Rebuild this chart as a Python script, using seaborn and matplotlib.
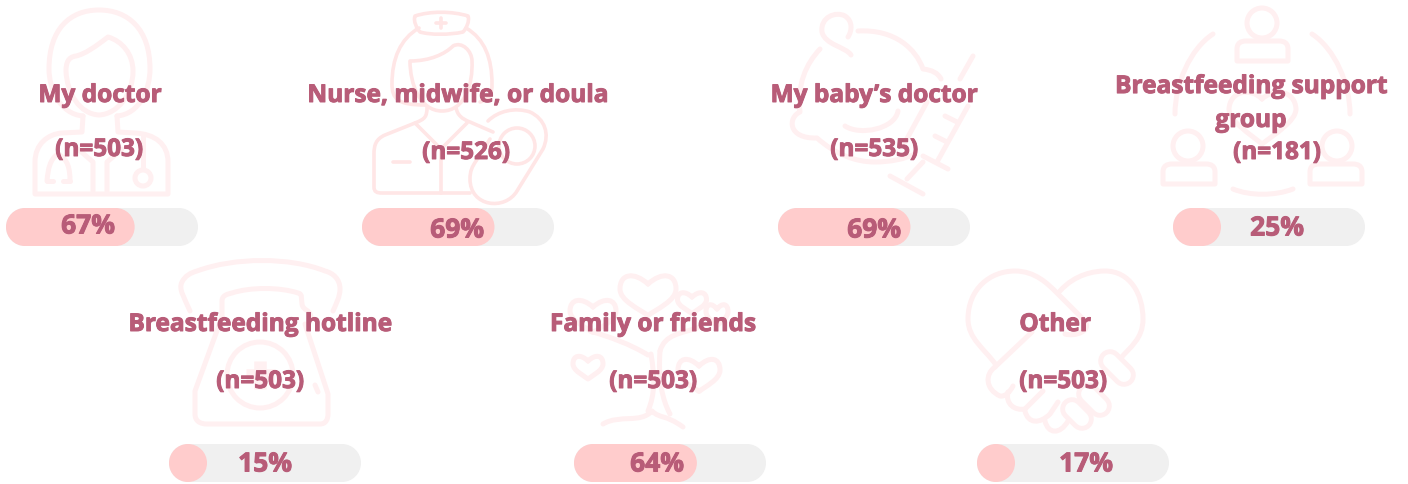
import re
import matplotlib
matplotlib.use("Agg")
import matplotlib.pyplot as plt
import matplotlib.patheffects as pe
import pandas as pd
import seaborn as sns
from matplotlib.patches import Circle, PathPatch
from matplotlib.path import Path

# Data
categories = ["My doctor", "Nurse, midwife, or doula", "My baby\u2019s doctor",
              "Breastfeeding support\ngroup", "Breastfeeding hotline",
              "Family or friends", "Other"]
n_values = [503, 526, 535, 181, 503, 503, 503]
percents = [67, 69, 69, 25, 15, 64, 17]

W, H = 1408, 485
TEXT = "#b85c78"
FILL = "#ffcccc"
TRACK = "#f0f0f0"
ICON = "#fff0f1"
ICON2 = "#ffe6e6"

# layout in pixels: bar left, bar top, title x, title y, n x, n y, pct x, pct y
layout = [
    (6, 209, 100, 94, 99, 148, 88, 224),
    (362, 209, 458, 94, 466, 151, 457, 228),
    (778, 209, 874, 94, 874, 148, 874, 228),
    (1173, 209, 1251, 102, 1277, 151, 1277, 226),
    (169, 445, 260, 323, 260, 380, 265, 462),
    (574, 445, 653, 323, 653, 380, 657, 462),
    (977, 445, 1055, 323, 1063, 380, 1086, 462),
]
BAR_W, BAR_H = 192, 38

sns.set_theme(style="white")
plt.rcParams["font.family"] = ["Open Sans", "DejaVu Sans"]

fig = plt.figure(figsize=(W / 100, H / 100), dpi=100, facecolor="white")

# background icons, drawn in pixel coordinates
bg = fig.add_axes([0, 0, 1, 1], zorder=0)
bg.set_xlim(0, W)
bg.set_ylim(H, 0)
bg.axis("off")


def svg(ax, d, color=ICON, lw=3.6):
    verts, codes = [], []
    for cmd, args in re.findall(r"([MLCZ])([^MLCZ]*)", d):
        nums = [float(v) for v in re.findall(r"-?[\d.]+", args)]
        pts = list(zip(nums[0::2], nums[1::2]))
        if cmd == "M":
            verts += pts
            codes += [Path.MOVETO]
        elif cmd == "L":
            verts += pts
            codes += [Path.LINETO] * len(pts)
        elif cmd == "C":
            verts += pts
            codes += [Path.CURVE4] * len(pts)
        else:
            verts += [verts[-1]]
            codes += [Path.CLOSEPOLY]
    ax.add_patch(PathPatch(Path(verts, codes), fc="none", ec=color, lw=lw,
                           capstyle="round", joinstyle="round"))


def ring(ax, x, y, r, color=ICON, lw=3.6):
    ax.add_patch(Circle((x, y), r, fc="none", ec=color, lw=lw))


def heart(ax, x, y, w, h, lw=3.6):
    # x, y = centre of the notch, w/h = full size
    a, b = w / 2, h
    svg(ax, f"M{x},{y} C{x-a*0.5},{y-b*0.3} {x-a},{y-b*0.25} {x-a},{y+b*0.12} "
            f"C{x-a},{y+b*0.4} {x-a*0.3},{y+b*0.6} {x},{y+b*0.75} "
            f"C{x+a*0.3},{y+b*0.6} {x+a},{y+b*0.4} {x+a},{y+b*0.12} "
            f"C{x+a},{y-b*0.25} {x+a*0.5},{y-b*0.3} {x},{y}", lw=lw)


def capsule(ax, x0, y0, x1, y1):
    for col, width in ((ICON, 17), ("white", 10)):
        ax.plot([x0, x1], [y0, y1], color=col, lw=width, solid_capstyle="round")


def pill_path(x, y, w, h, rx, ry):
    # rounded ends as true quarter circles
    k = 0.5523
    verts = [
        (x + rx, y), (x + w - rx, y),
        (x + w - rx + k * rx, y), (x + w, y + ry - k * ry), (x + w, y + ry),
        (x + w, y + h - ry),
        (x + w, y + h - ry + k * ry), (x + w - rx + k * rx, y + h), (x + w - rx, y + h),
        (x + rx, y + h),
        (x + rx - k * rx, y + h), (x, y + h - ry + k * ry), (x, y + h - ry),
        (x, y + ry),
        (x, y + ry - k * ry), (x + rx - k * rx, y), (x + rx, y),
    ]
    codes = [Path.MOVETO, Path.LINETO] + [Path.CURVE4] * 3 + [Path.LINETO] + [Path.CURVE4] * 3 \
        + [Path.LINETO] + [Path.CURVE4] * 3 + [Path.LINETO] + [Path.CURVE4] * 3
    return Path(verts, codes)


# doctor
for d in [
    "M83,117 C60,115 49,90 49,70 C49,30 70,11 99,11 C128,11 150,30 150,70 C150,90 140,115 117,117",
    "M108,38 C95,48 85,55 76,57 C68,58 66,64 66,72 C67,95 80,115 99,116 C118,115 133,95 133,72 C133,55 122,42 108,38 Z",
    "M83,117 L82,133 L62,134 C48,135 35,145 35,163 L35,195 L168,195 L168,163 C168,145 155,135 135,134 L118,133 L117,117",
    "M93,192 L93,163 L78,150", "M107,192 L107,163 L122,150",
    "M143,135 L143,170", "M70,182 C70,170 68,160 58,155 C50,160 48,170 47,182",
    "M47,182 L53,182", "M70,182 L63,182",
]:
    svg(bg, d)
ring(bg, 143, 179, 8)

# nurse and baby
for d in [
    "M415,17 C430,12 452,12 468,17 C470,22 466,30 463,33 C450,36 430,36 420,33 C417,30 413,22 415,17 Z",
    "M419,29 C400,40 392,60 392,85 C392,100 398,106 425,106",
    "M466,29 C485,40 492,60 492,85 C492,95 490,100 480,103",
    "M410,62 C430,62 445,55 453,47 C462,42 472,52 472,62 C473,85 465,112 442,112 C420,112 410,85 410,62 Z",
    "M427,108 C427,118 425,120 415,124 L385,136 C376,140 374,146 374,155 L374,188 C374,193 377,194 382,194 L470,194",
    "M415,124 L441,150 L467,124", "M441,150 L441,194",
    "M456,108 C457,116 462,120 470,123 L493,133",
    "M393,163 L410,163", "M441,19 L441,29", "M436,24 L446,24",
    "M488,122 C498,112 515,108 530,113 C545,120 550,135 543,150 L517,192 C505,212 470,208 470,180 C470,172 472,168 476,162 L490,140",
]:
    svg(bg, d, color=ICON2, lw=2.6)
ring(bg, 517, 147, 18, color=ICON2, lw=2.6)

# baby and syringe
for d in [
    "M851,56 C846,48 825,46 822,33 C820,18 836,12 845,17 C853,22 852,32 848,38",
    "M858,32 C895,30 916,50 923,70 C932,71 938,74 941,80",
    "M820,50 C806,65 797,85 800,113 C788,118 787,140 817,139 C835,155 855,163 875,163 C890,163 905,160 915,155",
    "M845,127 C860,137 895,130 898,112",
    "M973,57 L960,80", "M968,107 L937,163", "M927,103 L903,147", "M923,157 L948,170",
    "M923,163 L907,180", "M890,177 L923,195", "M945,117 L957,123", "M935,137 L947,143",
]:
    svg(bg, d)

# support group
for cx, cy, x0, x1 in [(1262, 24, 1237, 1288), (1188, 147, 1163, 1215), (1337, 147, 1310, 1362)]:
    ring(bg, cx, cy, 15)
    svg(bg, f"M{x0},{cy+38} L{x0},{cy+26} C{x0},{cy+20} {x0+4},{cy+18} {x0+9},{cy+18} "
            f"L{x1-9},{cy+18} C{x1-4},{cy+18} {x1},{cy+20} {x1},{cy+26} L{x1},{cy+38} Z")
for d in [
    "M1213,35 C1190,50 1175,85 1175,115", "M1312,35 C1335,50 1350,85 1350,115",
    "M1233,190 C1250,197 1275,197 1293,190",
    "M1262,100 C1250,88 1230,92 1229,110 C1229,122 1250,135 1262,145 C1275,135 1296,122 1296,110 C1295,92 1275,88 1262,100",
]:
    svg(bg, d)

# phone
for d in [
    "M190,312 C185,300 178,290 182,283 C185,277 190,274 197,272 C235,258 290,258 325,272 C333,274 340,280 340,290 C340,298 336,305 333,312",
    "M222,318 L222,302 C222,296 228,295 232,294 C250,288 280,288 298,294 C303,295 301,300 302,305 C303,312 310,310 311,318",
    "M222,318 L195,392 L195,415 C195,422 200,425 207,425 L320,425 C326,425 328,420 328,415 L328,395 L305,325",
    "M315,386 L318,393",
]:
    svg(bg, d)
ring(bg, 260, 376, 33)
bg.plot([260, 260], [362, 390], color=ICON, lw=9, solid_capstyle="butt")
bg.plot([246, 274], [376, 376], color=ICON, lw=9, solid_capstyle="butt")

# tree
heart(bg, 648, 285, 56, 42)
heart(bg, 593, 308, 46, 34)
heart(bg, 692, 298, 29, 22)
heart(bg, 717, 310, 22, 22)
heart(bg, 588, 362, 30, 24)
heart(bg, 699, 367, 42, 34)
for d in [
    "M648,356 C630,345 610,338 590,332", "M660,352 C665,335 680,335 700,328",
    "M651,355 C655,380 655,395 648,412", "M660,352 C658,380 662,400 670,415",
    "M603,425 C620,415 640,425 652,412 C660,420 665,415 683,428",
]:
    svg(bg, d)

# heart with hands
for x0, y0, x1, y1 in [(1110, 362, 1124, 376), (1088, 395, 1100, 407), (1072, 410, 1082, 420)]:
    capsule(bg, x0, y0, x1, y1)
for d in [
    "M996,366 C985,350 968,340 968,320 C968,290 990,272 1015,272 C1035,272 1048,285 1056,293 L1085,322 C1092,332 1075,338 1065,335",
    "M1060,292 C1075,275 1095,272 1105,272 C1130,272 1143,295 1143,320 C1143,340 1130,348 1120,360",
    "M1032,333 L995,368",
    "M995,368 C985,375 985,390 1000,397 C1005,398 1010,393 1013,387",
    "M1008,393 C1005,405 1015,412 1025,410 L1043,392",
    "M1025,412 C1028,425 1040,425 1050,415 L1058,403",
    "M1045,422 C1048,435 1060,436 1068,422",
]:
    svg(bg, d)

# bars, one small axes per category with a 0-100 scale
for cat, pct, pos in zip(categories, percents, layout):
    x, y = pos[0], pos[1]
    ax = fig.add_axes([x / W, 1 - (y + BAR_H) / H, BAR_W / W, BAR_H / H], zorder=1)
    ax.patch.set_alpha(0)
    df = pd.DataFrame({"cat": [cat], "track": [100], "pct": [pct]})
    sns.barplot(data=df, x="track", y="cat", color=TRACK, saturation=1, width=1, ax=ax)
    sns.barplot(data=df, x="pct", y="cat", color=FILL, saturation=1, width=1, ax=ax)
    ax.set_xlim(0, 100)
    ax.set_ylim(0.5, -0.5)
    ax.axis("off")
    # swap the square bars for pills; a pill can't be shorter than its own height
    min_w = 100 * BAR_H / BAR_W
    for p in list(ax.patches):
        w = max(p.get_width(), min_w)
        path = pill_path(p.get_x(), p.get_y(), w, p.get_height(), min_w / 2, 0.5)
        ax.add_patch(PathPatch(path, fc=p.get_facecolor(), ec="none"))
        p.remove()


def px_text(x, y, s, size):
    t = fig.text(x / W, 1 - (y + 3) / H, s, ha="center", va="center", fontsize=size,
                 fontweight="bold", color=TEXT, linespacing=1.55, zorder=5)
    t.set_path_effects([pe.withStroke(linewidth=0.7, foreground=TEXT)])


for cat, n, pct, pos in zip(categories, n_values, percents, layout):
    px_text(pos[2], pos[3], cat, 17.6)
    px_text(pos[4], pos[5], f"(n={n})", 17.5)
    px_text(pos[6], pos[7], f"{pct}%", 19)

fig.savefig("out.png", dpi=100)
